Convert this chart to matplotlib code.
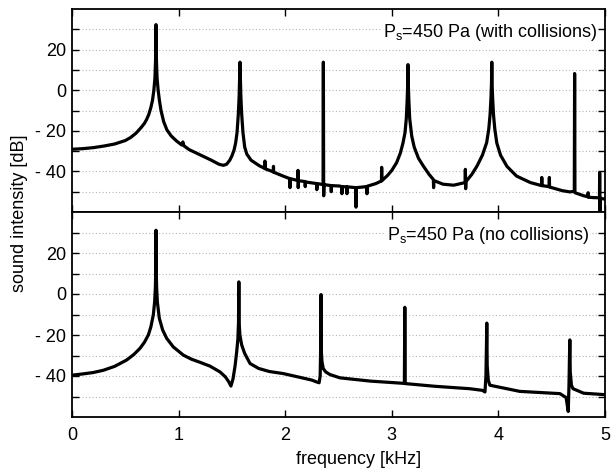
import matplotlib
matplotlib.use("Agg")
import matplotlib.pyplot as plt
from matplotlib.ticker import FixedLocator

plt.rcParams['font.family'] = ['Liberation Sans', 'DejaVu Sans']
plt.rcParams['mathtext.default'] = 'regular'

# ---- data (frequency in kHz, intensity in dB) ----
freq_top = [0.00, 0.10, 0.20, 0.30, 0.40, 0.50, 0.55, 0.60, 0.65, 0.68, 0.70, 0.72, 0.74, 0.755,
            0.768, 0.778, 0.784, 0.788, 0.792, 0.798, 0.808, 0.82, 0.835, 0.86, 0.89, 0.93, 0.98,
            1.03, 1.04, 1.05, 1.10, 1.20, 1.30, 1.38, 1.42, 1.45, 1.48, 1.50, 1.52, 1.535, 1.548,
            1.560, 1.568, 1.576, 1.584, 1.592, 1.604, 1.62, 1.64, 1.68, 1.76, 1.808, 1.81, 1.812,
            1.888, 1.89, 1.892, 1.98, 2.04, 2.045, 2.05, 2.118, 2.12, 2.122, 2.125, 2.186, 2.188,
            2.19, 2.23, 2.295, 2.297, 2.30, 2.355, 2.358, 2.361, 2.364, 2.43, 2.432, 2.435, 2.51,
            2.53, 2.532, 2.535, 2.577, 2.579, 2.582, 2.662, 2.664, 2.667, 2.765, 2.767, 2.770,
            2.85, 2.903, 2.905, 2.907, 2.96, 3.00, 3.045, 3.08, 3.105, 3.124, 3.136, 3.144, 3.149,
            3.152, 3.155, 3.160, 3.168, 3.187, 3.21, 3.25, 3.295, 3.35, 3.39, 3.392, 3.395, 3.48,
            3.58, 3.688, 3.690, 3.693, 3.696, 3.75, 3.80, 3.85, 3.89, 3.91, 3.922, 3.930, 3.935,
            3.938, 3.941, 3.946, 3.954, 3.966, 3.985, 4.02, 4.08, 4.17, 4.30, 4.405, 4.407, 4.409,
            4.476, 4.478, 4.48, 4.60, 4.67, 4.712, 4.715, 4.718, 4.80, 4.84, 4.842, 4.845, 4.89,
            4.948, 4.95, 4.953, 4.956, 5.00]
db_top = [-29.1, -28.8, -28.3, -27.5, -26.5, -24.8, -23.3, -21.2, -18.3, -16.3, -14.4, -12.0, -8.5,
          -5.0, 0.0, 6.0, 15.0, 32.3, 15.0, 6.0, 0.0, -5.0, -10.0, -15.5, -19.5, -22.5, -25.0,
          -27.0, -25.5, -27.4, -29.3, -31.8, -34.3, -36.5, -37.0, -36.5, -34.5, -32.4, -29.5, -26.0,
          -21.0, -12.0, -3.0, 13.8, -3.0, -12.0, -21.0, -28.0, -31.5, -34.5, -37.3, -38.5, -34.9,
          -38.7, -40.2, -37.5, -40.4, -42.3, -43.5, -48.0, -43.6, -44.5, -39.5, -48.0, -44.6,
          -45.0, -47.5, -45.2, -45.5, -46.0, -49.0, -46.0, -46.5, 13.8, -52.0, -46.5, -47.0,
          -50.0, -47.0, -47.2, -47.5, -51.0, -47.5, -47.6, -51.0, -47.6, -48.0, -57.6, -48.0,
          -47.5, -51.0, -47.3, -46.0, -44.7, -38.0, -44.6, -42.0, -39.5, -35.7, -31.0, -26.0,
          -20.9, -14.0, -5.0, 3.0, 12.6, 3.0, -5.0, -14.0, -22.6, -28.0, -33.5, -37.3, -41.5,
          -44.0, -48.0, -44.5, -46.3, -46.8, -45.5, -39.0, -48.5, -45.0, -41.5, -37.3, -32.0,
          -25.8, -19.0, -12.0, -4.0, 3.0, 13.8, 3.0, -4.0, -12.0, -19.0, -26.0, -32.0, -37.5,
          -42.3, -45.5, -47.0, -43.0, -47.0, -47.5, -43.0, -47.7, -49.5, -50.1, -49.8, 8.2, -50.5,
          -52.0, -52.5, -50.5, -52.7, -52.9, -53.0, -40.6, -59.5, -53.2, -53.7]

freq_bot = [0.00, 0.10, 0.20, 0.294, 0.40, 0.513, 0.58, 0.638, 0.68, 0.716, 0.74, 0.763, 0.775,
            0.782, 0.786, 0.788, 0.790, 0.794, 0.801, 0.819, 0.85, 0.888, 0.95, 1.044, 1.12, 1.20,
            1.295, 1.388, 1.44, 1.47, 1.491, 1.51, 1.53, 1.545, 1.556, 1.562, 1.565, 1.568, 1.575,
            1.592, 1.62, 1.67, 1.75, 1.85, 1.98, 2.15, 2.25, 2.295, 2.318, 2.328, 2.333, 2.336,
            2.339, 2.345, 2.357, 2.38, 2.42, 2.514, 2.80, 3.118, 3.122, 3.126, 3.40, 3.73, 3.85,
            3.874, 3.883, 3.888, 3.891, 3.895, 3.905, 3.92, 4.20, 4.577, 4.635, 4.655, 4.662,
            4.667, 4.670, 4.674, 4.685, 4.70, 4.80, 5.00]
db_bot = [-39.6, -39.0, -38.3, -37.2, -35.3, -32.2, -29.5, -26.5, -23.5, -20.0, -16.0, -10.1, -4.0,
          3.0, 12.0, 31.1, 12.0, 3.0, -4.0, -11.8, -17.5, -21.6, -25.8, -29.8, -31.8, -33.3,
          -35.2, -38.0, -40.5, -42.8, -44.9, -41.5, -35.0, -28.2, -22.0, -14.0, 5.9, -14.0,
          -20.0, -24.9, -29.0, -33.9, -36.3, -37.8, -38.8, -40.8, -42.0, -42.9, -43.3, -40.0,
          -25.0, -0.3, -28.0, -33.0, -36.4, -38.0, -39.3, -40.9, -42.5, -43.6, -6.5, -43.7,
          -45.0, -46.2, -47.0, -47.8, -40.0, -25.0, -14.2, -35.0, -42.0, -44.5, -47.5, -48.6,
          -50.5, -57.3, -45.0, -30.0, -22.4, -38.0, -44.5, -46.2, -48.4, -49.1]

label_top = 'P$_s$=450 Pa (with collisions)'
label_bot = 'P$_s$=450 Pa (no collisions)'
ytick_vals = [-40, -20, 0, 20]
ytick_labels = ['- 40', '- 20', '0', '20']
xtick_vals = [0, 1, 2, 3, 4, 5]
grid_vals = [-50, -40, -30, -20, -10, 0, 10, 20, 30]

fig = plt.figure(figsize=(6.13, 4.76), dpi=100)
L, R = 72 / 613, 605 / 613
y_top, y_mid, y_bot = 1 - 9 / 476, 1 - 212 / 476, 1 - 417 / 476
ax1 = fig.add_axes([L, y_mid, R - L, y_top - y_mid])
ax2 = fig.add_axes([L, y_bot, R - L, y_mid - y_bot], sharex=ax1)

for ax, f, d, lab, lx in [(ax1, freq_top, db_top, label_top, 0.985),
                          (ax2, freq_bot, db_bot, label_bot, 0.970)]:
    ax.plot(f, d, color='black', lw=2.3, solid_joinstyle='round', zorder=3)
    ax.set_xlim(0, 5)
    ax.set_ylim(-60, 40)
    for g in grid_vals:
        ax.axhline(g, color='#b5b5b5', lw=0.8, ls=(0, (1, 2)), zorder=1)
    ax.yaxis.set_major_locator(FixedLocator(ytick_vals))
    ax.set_yticklabels(ytick_labels)
    ax.yaxis.set_minor_locator(FixedLocator([-50, -30, -10, 10, 30]))
    ax.xaxis.set_major_locator(FixedLocator(xtick_vals))
    ax.tick_params(which='both', direction='in', top=True, right=True, length=5, width=1.0,
                   labelsize=13, pad=4)
    ax.tick_params(axis='x', pad=7)
    for s in ax.spines.values():
        s.set_linewidth(1.3)
    ax.text(lx, 0.862, lab, transform=ax.transAxes, ha='right', va='baseline', fontsize=13,
            zorder=4, bbox=dict(facecolor='white', edgecolor='none', pad=1.0))

plt.setp(ax1.get_xticklabels(), visible=False)
ax2.set_xticklabels([str(v) for v in xtick_vals])

fig.text(0.032, (y_top + y_bot) / 2, 'sound intensity [dB]', rotation=90, ha='center', va='center',
         fontsize=13)
fig.text(359 / 613, 1 - 460 / 476, 'frequency [kHz]', ha='center', va='center', fontsize=13)

fig.savefig('out.png', dpi=100)
